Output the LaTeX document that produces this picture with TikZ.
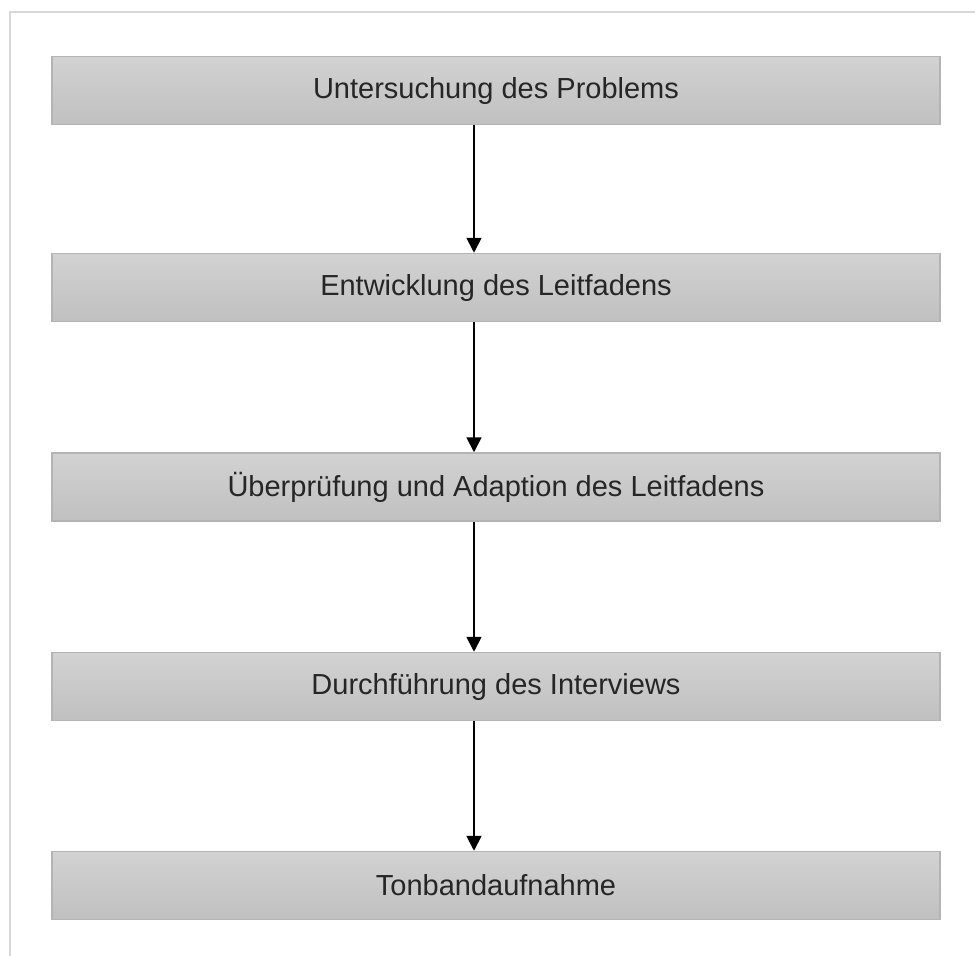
\documentclass[tikz,border=0pt]{standalone}
\usepackage{fontspec}
\setmainfont{Liberation Sans}
\usetikzlibrary{arrows.meta}
\definecolor{boxtop}{HTML}{D2D2D2}
\definecolor{boxbot}{HTML}{C0C0C0}
\definecolor{boxline}{HTML}{B4B4B4}
\definecolor{frameline}{HTML}{D8D8D8}
\begin{document}
\begin{tikzpicture}[x=1pt,y=-1pt,
  stepbox/.style={draw=boxline, line width=1.5pt, top color=boxtop, bottom color=boxbot,
    minimum width=888pt, minimum height=68pt, inner sep=0pt,
    font=\fontsize{29}{34}\selectfont, text=black!85},
  flow/.style={-{Triangle[length=15pt,width=15pt]}, line width=1.8pt, black}]
\useasboundingbox (0,0) rectangle (975,956);
\coordinate (ftl) at (10,12);
\coordinate (ftr) at (975,12);
\coordinate (fbl) at (10,956);
\draw[frameline, line width=1.5pt] (ftr) -- (ftl) -- (fbl);
\node[stepbox] (s1) at (496,90.5) {Untersuchung des Problems};
\node[stepbox] (s2) at (496,287.5) {Entwicklung des Leitfadens};
\node[stepbox] (s3) at (496,487) {Überprüfung und Adaption des Leitfadens};
\node[stepbox] (s4) at (496,686.5) {Durchführung des Interviews};
\node[stepbox] (s5) at (496,885.5) {Tonbandaufnahme};
\draw[flow] (s1.south -| 474,0) -- (s2.north -| 474,0);
\draw[flow] (s2.south -| 474,0) -- (s3.north -| 474,0);
\draw[flow] (s3.south -| 474,0) -- (s4.north -| 474,0);
\draw[flow] (s4.south -| 474,0) -- (s5.north -| 474,0);
\end{tikzpicture}
\end{document}
